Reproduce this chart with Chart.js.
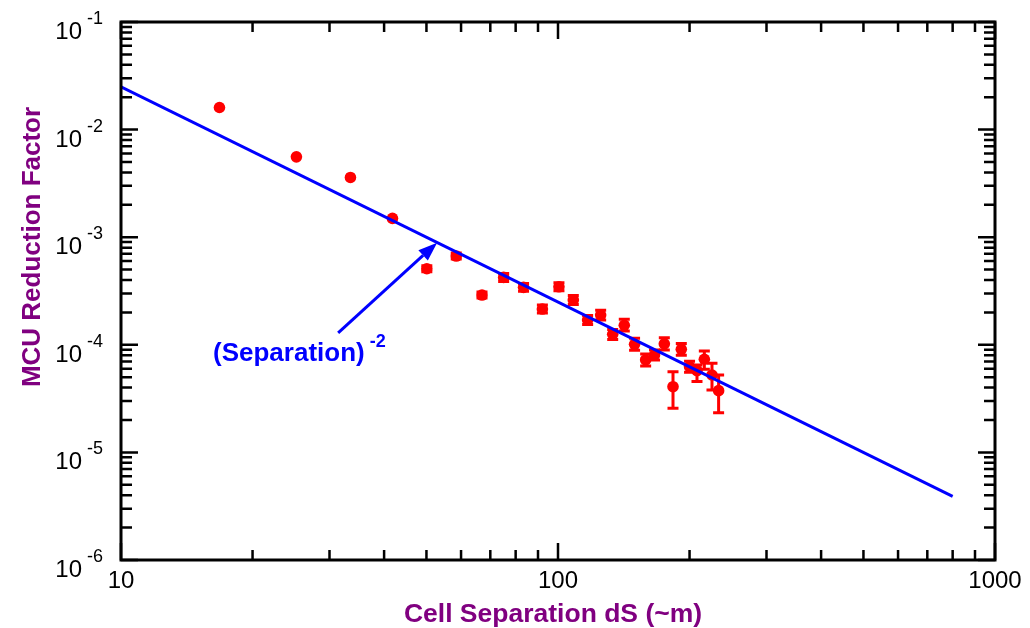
<!DOCTYPE html>
<html>
<head>
<meta charset="utf-8">
<script src="https://cdn.jsdelivr.net/npm/chart.js@4.4.0/dist/chart.umd.min.js"></script>
<style>
  html, body { margin: 0; padding: 0; background: #fff; }
</style>
</head>
<body>
<canvas id="mcuChart" width="1030" height="628"></canvas>
<script>
// MCU reduction factor measured at each cell separation (um)
const separation = [16.8, 25.2, 33.5, 41.8, 50.1, 58.5, 67.0, 75.1, 83.4, 92.1, 100.5, 108.4, 116.9, 125.2,
    133.4, 141.8, 149.7, 158.7, 166.3, 175.1, 183.3, 191.5, 200.0, 208.0, 216.2, 225.1, 233.1];
const reduction = [0.01604, 0.00558, 0.00359, 0.001495, 0.000509, 0.000668, 0.00029, 0.000423, 0.000342, 0.000215,
    0.000346, 0.000261, 0.00017, 0.000189, 0.000125, 0.000152, 0.000101, 7.23e-5, 8.04e-5, 0.000102,
    4.08e-5, 9.08e-5, 6.26e-5, 5.75e-5, 7.34e-5, 5.24e-5, 3.75e-5];
// error bar limits (null = bar hidden behind the marker)
const reductionLow = [null, null, null, null, 0.000477, 0.000627, 0.000272, 0.000388, 0.000314, 0.000197,
    0.000318, 0.000237, 0.000154, 0.00017, 0.000112, 0.000134, 8.9e-5, 6.36e-5, 7.22e-5, 8.97e-5,
    2.57e-5, 7.99e-5, 5.56e-5, 4.55e-5, 5.93e-5, 3.8e-5, 2.34e-5];
const reductionHigh = [null, null, null, null, 0.000543, 0.000712, 0.000309, 0.000461, 0.000372, 0.000234,
    0.000377, 0.000287, 0.000187, 0.00021, 0.000139, 0.000173, 0.000115, 8.22e-5, 8.95e-5, 0.000116,
    5.62e-5, 0.000103, 7.04e-5, 6.5e-5, 8.76e-5, 6.73e-5, 5.25e-5];

// inverse-square reference line
const fitX = [10, 800];
const fitY = [0.025, 3.9e-6];

// axis decades
const xMajorTicks = [10, 100, 1000];
const xTickLabels = ['10', '100', '1000'];
const yMajorTicks = [1e-6, 1e-5, 1e-4, 1e-3, 1e-2, 1e-1];
const yTickExponents = ['-6', '-5', '-4', '-3', '-2', '-1'];

// arrow label: text anchor, arrow tail and arrow tip in data units
const labelAnchor = [16.24, 7.08e-5];
const arrowFrom = [31.4, 1.29e-4];
const arrowTo = [52.9, 8.9e-4];

const FONT = '"Liberation Sans", Arial, sans-serif';
const PURPLE = '#800080';

function minorTicks(min, max) {
    const out = [];
    for (let d = Math.floor(Math.log10(min)); d < Math.ceil(Math.log10(max)); d++) {
        for (let k = 2; k <= 9; k++) {
            const v = k * Math.pow(10, d);
            if (v > min && v < max) out.push(v);
        }
    }
    return out;
}

const decorations = {
    id: 'decorations',
    beforeDatasetsDraw(chart) {
        const { ctx, scales: { x, y } } = chart;
        ctx.save();
        ctx.strokeStyle = '#ff0000';
        ctx.lineWidth = 3;
        separation.forEach((sx, i) => {
            if (reductionLow[i] === null) return;
            const px = x.getPixelForValue(sx);
            const lo = y.getPixelForValue(reductionLow[i]);
            const hi = y.getPixelForValue(reductionHigh[i]);
            ctx.beginPath();
            ctx.moveTo(px, lo); ctx.lineTo(px, hi);
            ctx.moveTo(px - 5.5, lo); ctx.lineTo(px + 5.5, lo);
            ctx.moveTo(px - 5.5, hi); ctx.lineTo(px + 5.5, hi);
            ctx.stroke();
        });
        ctx.restore();
    },
    afterDraw(chart) {
        const { ctx, chartArea: a, scales: { x, y } } = chart;
        ctx.save();
        ctx.strokeStyle = '#000';
        ctx.fillStyle = '#000';

        // ticks on all four sides, pointing inward
        ctx.lineWidth = 2.5;
        const xTick = (v, len) => {
            const px = x.getPixelForValue(v);
            ctx.beginPath();
            ctx.moveTo(px, a.bottom); ctx.lineTo(px, a.bottom - len);
            ctx.moveTo(px, a.top); ctx.lineTo(px, a.top + len);
            ctx.stroke();
        };
        const yTick = (v, len) => {
            const py = y.getPixelForValue(v);
            ctx.beginPath();
            ctx.moveTo(a.left, py); ctx.lineTo(a.left + len, py);
            ctx.moveTo(a.right, py); ctx.lineTo(a.right - len, py);
            ctx.stroke();
        };
        minorTicks(x.min, x.max).forEach(v => xTick(v, 10));
        xMajorTicks.forEach(v => xTick(v, 17));
        minorTicks(y.min, y.max).forEach(v => yTick(v, 11));
        yMajorTicks.forEach(v => yTick(v, 17));

        // frame
        ctx.lineWidth = 3;
        ctx.strokeRect(a.left, a.top, a.right - a.left, a.bottom - a.top);

        // x tick labels
        ctx.font = '24px ' + FONT;
        ctx.textAlign = 'center';
        ctx.textBaseline = 'alphabetic';
        xMajorTicks.forEach((v, i) => {
            ctx.fillText(xTickLabels[i], x.getPixelForValue(v), a.bottom + 28);
        });

        // y tick labels as 10 with raised exponent
        yMajorTicks.forEach((v, i) => {
            const py = y.getPixelForValue(v);
            ctx.font = '24px ' + FONT;
            ctx.textAlign = 'right';
            ctx.fillText('10', a.left - 39, py + 17);
            ctx.font = '18px ' + FONT;
            ctx.textAlign = 'left';
            ctx.fillText(yTickExponents[i], a.left - 34, py + 2);
        });

        // axis titles
        ctx.fillStyle = PURPLE;
        ctx.font = 'bold 26.5px ' + FONT;
        ctx.textAlign = 'center';
        ctx.fillText('Cell Separation dS (~m)', 553, a.bottom + 62);
        ctx.save();
        ctx.translate(40, 247);
        ctx.rotate(-Math.PI / 2);
        ctx.font = 'bold 26px ' + FONT;
        ctx.fillText('MCU Reduction Factor', 0, 0);
        ctx.restore();

        // arrow pointing at the reference line
        ctx.strokeStyle = '#0000ff';
        ctx.fillStyle = '#0000ff';
        ctx.lineWidth = 3;
        const x0 = x.getPixelForValue(arrowFrom[0]), y0 = y.getPixelForValue(arrowFrom[1]);
        const x1 = x.getPixelForValue(arrowTo[0]), y1 = y.getPixelForValue(arrowTo[1]);
        const ang = Math.atan2(y1 - y0, x1 - x0);
        const headLen = 19, headHalf = 7;
        const bx = x1 - headLen * Math.cos(ang), by = y1 - headLen * Math.sin(ang);
        ctx.beginPath();
        ctx.moveTo(x0, y0); ctx.lineTo(bx, by);
        ctx.stroke();
        ctx.beginPath();
        ctx.moveTo(x1, y1);
        ctx.lineTo(bx + headHalf * Math.sin(ang), by - headHalf * Math.cos(ang));
        ctx.lineTo(bx - headHalf * Math.sin(ang), by + headHalf * Math.cos(ang));
        ctx.closePath();
        ctx.fill();

        // (Separation)^-2 label
        const lx = x.getPixelForValue(labelAnchor[0]);
        const ly = y.getPixelForValue(labelAnchor[1]);
        ctx.font = 'bold 26px ' + FONT;
        ctx.textAlign = 'left';
        ctx.fillText('(Separation)', lx, ly);
        const w = ctx.measureText('(Separation)').width;
        ctx.font = 'bold 18px ' + FONT;
        ctx.fillText('-2', lx + w + 5, ly - 14);

        ctx.restore();
    }
};

new Chart(document.getElementById('mcuChart'), {
    type: 'scatter',
    data: {
        datasets: [
            {
                type: 'line',
                label: 'Separation^-2',
                data: fitX.map((v, i) => ({ x: v, y: fitY[i] })),
                borderColor: '#0000ff',
                borderWidth: 3,
                pointRadius: 0,
                fill: false
            },
            {
                label: 'MCU',
                data: separation.map((v, i) => ({ x: v, y: reduction[i] })),
                backgroundColor: '#ff0000',
                borderWidth: 0,
                pointRadius: 5.8,
                pointHoverRadius: 5.8
            }
        ]
    },
    options: {
        responsive: false,
        animation: false,
        devicePixelRatio: 1,
        layout: { padding: { left: 121, right: 35, top: 22, bottom: 68 } },
        plugins: { legend: { display: false }, tooltip: { enabled: false } },
        scales: {
            x: { type: 'logarithmic', min: 10, max: 1000, display: false },
            y: { type: 'logarithmic', min: 1e-6, max: 0.1, display: false }
        }
    },
    plugins: [decorations]
});
</script>
</body>
</html>
